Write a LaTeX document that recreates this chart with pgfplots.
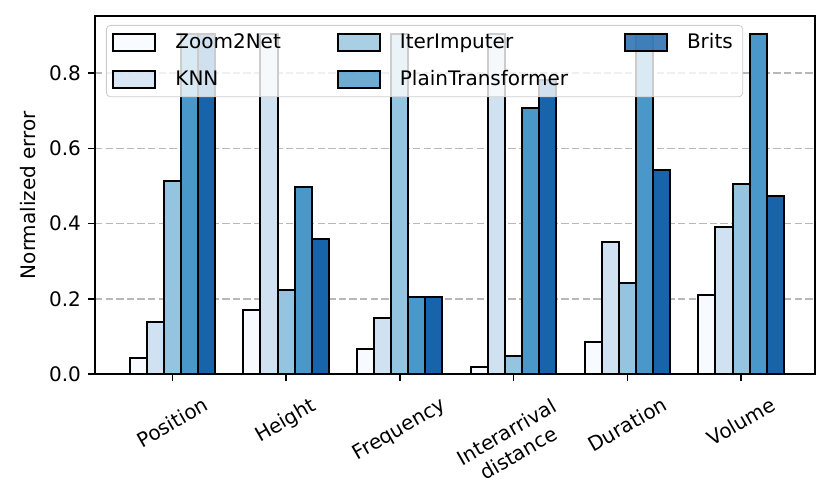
\documentclass[border=0pt]{standalone}
\usepackage{fontspec}
\setmainfont{DejaVu Sans}
\usepackage{graphicx}
\usepackage{pgfplots}
\usepackage{pgfplotstable}
\pgfplotsset{compat=1.18}
\definecolor{c1}{HTML}{F7FBFF}
\definecolor{c2}{HTML}{D0E1F2}
\definecolor{c3}{HTML}{94C4DF}
\definecolor{c4}{HTML}{4A98C9}
\definecolor{c5}{HTML}{1764AB}
\definecolor{gridc}{HTML}{B8B8B8}

\pgfplotstableread{
x z2n knn iter pt brits
0 0.042 0.137 0.512 0.905 0.905
1 0.170 0.905 0.223 0.498 0.358
2 0.066 0.148 0.905 0.206 0.206
3 0.019 0.905 0.048 0.708 0.782
4 0.086 0.350 0.241 0.905 0.543
5 0.210 0.392 0.504 0.905 0.474
}\datatable

\newcommand{\rl}[1]{\rotatebox[origin=c]{30}{#1}}

\begin{document}
\fontsize{10}{12}\selectfont
\begin{tikzpicture}
\begin{axis}[
  scale only axis, width=360pt, height=179pt,
  xmin=-0.68, xmax=5.65, ymin=0, ymax=0.952,
  ybar, bar width=0.15,
  axis line style={black, line width=0.8pt},
  tick style={black, line width=0.8pt},
  major tick length=3.5pt,
  tick align=outside,
  tick pos=left,
  xtick={0,1,2,3,4,5},
  xticklabels={{\rl{Position}},{\rl{Height}},{\rl{Frequency}},{\rl{\begin{tabular}{@{}c@{}}Interarrival\\distance\end{tabular}}},{\rl{Duration}},{\rl{Volume}}},
  xticklabel style={anchor=north, inner sep=0pt, yshift=-7.5pt},
  ytick={0,0.2,0.4,0.6,0.8},
  yticklabel style={/pgf/number format/.cd, fixed, fixed zerofill, precision=1, assume math mode=true},
  ymajorgrids,
  grid style={gridc, line width=0.8pt, dash pattern=on 3.7pt off 1.6pt},
  ylabel={Normalized error},
  tick label style={font=\fontsize{10}{12}\selectfont},
  label style={font=\fontsize{10}{12}\selectfont},
  legend columns=3,
  legend cell align=left,
  legend image code/.code={\draw[#1, sharp corners, line width=1pt] (0pt,-4.2pt) rectangle (21pt,4.2pt);},
  legend style={at={(0,1)}, anchor=north west, xshift=5.5pt, yshift=-4.5pt,
    fill=white, fill opacity=0.8, text opacity=1, draw=black!20, draw opacity=1,
    rounded corners=2pt, inner xsep=3pt, inner ysep=2pt, row sep=5.5pt,
    font=\fontsize{10}{12}\selectfont,
    /tikz/every odd column/.append style={column sep=7.5pt},
    /tikz/every even column/.append style={column sep=26pt}},
]
\addplot[forget plot, fill=c1, draw=black, line width=1pt, bar shift=-0.3] table[x=x, y=z2n] {\datatable};
\addplot[forget plot, fill=c2, draw=black, line width=1pt, bar shift=-0.15] table[x=x, y=knn] {\datatable};
\addplot[forget plot, fill=c3, draw=black, line width=1pt, bar shift=0] table[x=x, y=iter] {\datatable};
\addplot[forget plot, fill=c4, draw=black, line width=1pt, bar shift=0.15] table[x=x, y=pt] {\datatable};
\addplot[forget plot, fill=c5, draw=black, line width=1pt, bar shift=0.3] table[x=x, y=brits] {\datatable};
\addlegendimage{fill=c1, draw=black}
\addlegendentry{Zoom2Net}
\addlegendimage{fill=c3, draw=black}
\addlegendentry{IterImputer}
\addlegendimage{fill=c5, draw=black}
\addlegendentry{Brits}
\addlegendimage{fill=c2, draw=black}
\addlegendentry{KNN}
\addlegendimage{fill=c4, draw=black}
\addlegendentry{PlainTransformer}
\end{axis}
\pgfresetboundingbox
\path (current axis.south west) ++(-47.5pt,-65pt) (current axis.north east) ++(7.5pt,8pt);
\end{tikzpicture}
\end{document}
